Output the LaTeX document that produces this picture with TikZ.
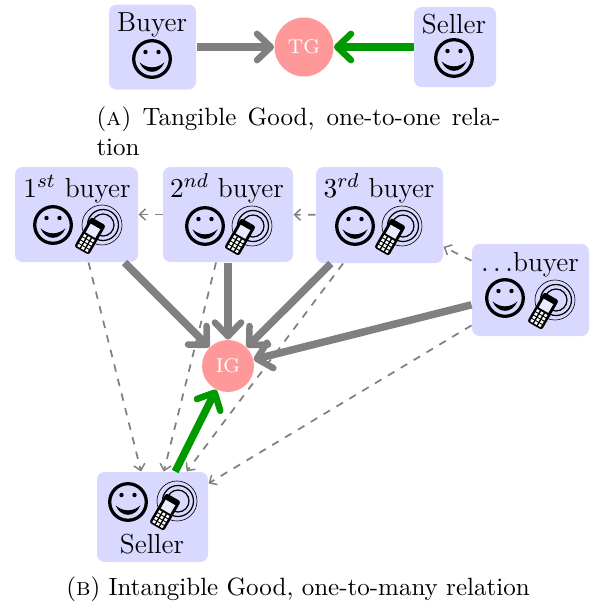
\documentclass[tikz,border=0pt]{standalone}
\usepackage{amsmath}
\usetikzlibrary{arrows.meta}

\tikzset{
  agentbox/.style 2 args={fill=blue!15, rounded corners=3pt, inner sep=0pt, minimum width=#1*0.4pt, minimum height=#2*0.4pt},
  agenttext/.style={anchor=base, inner sep=0pt, font=\fontsize{11}{13}\selectfont},
  goodnode/.style={circle, fill=red!40, text=white, inner sep=0pt, font=\footnotesize},
  captiontext/.style={anchor=base, inner sep=0pt, font=\normalsize},
  realflow/.style={-{Straight Barb[length=5.5pt, width=10.5pt, line width=2.6pt, round]}, draw=gray, line width=3pt},
  moneyflow/.style={-{Straight Barb[length=5.5pt, width=10.5pt, line width=2.6pt, round]}, draw=green!60!black, line width=3pt},
  infoflow/.style={-{Straight Barb[length=2.4pt, width=4.5pt, line width=0.6pt]}, draw=gray, line width=0.7pt, dashed},
  smileyface/.pic={
    \draw[line width=1.3pt] (0,0) circle (18.3);
    \fill (-6.5,-7) circle (2.2);
    \fill (6.5,-7) circle (2.2);
    \fill (-12.5,3.3) .. controls (-5,10) and (5,10) .. (12.5,3.3) .. controls (7,16) and (-7,16) .. cycle;
  },
  mobilephone/.pic={
    \draw[line width=0.25pt] (0,0) circle (20);
    \draw[line width=0.5pt] (1,0) circle (15.5);
    \draw[line width=0.5pt] (1,0) circle (11);
    \begin{scope}[shift={(-12,11)}, rotate=-30]
      \fill[rounded corners=1pt] (-8.5,-17) rectangle (8.5,17);
      \fill[blue!8] (-5.5,-11) rectangle (5.5,-1);
      \foreach \col in {-4.5,0,4.5} \foreach \row in {2.5,6.3,10.1,13.9} \fill[white] (\col-1.4,\row-1.3) rectangle (\col+1.4,\row+1.3);
    \end{scope}
  }
}

\begin{document}
\begin{tikzpicture}[x=0.4pt, y=-0.4pt, line join=round]
\useasboundingbox (0,0) rectangle (591,608);

% tangible good
\node[agentbox={87}{85}] (buyer) at (152.5,47) {};
\node[agentbox={82}{80}] (seller) at (455,47) {};
\node[goodnode, minimum size=59*0.4pt] (tg) at (304,47) {TG};
\node[agenttext] (buyertext) at (152,31) {Buyer};
\node[agenttext] (sellertext) at (454,33) {Seller};
\pic at (152,59) {smileyface};
\pic at (454,58) {smileyface};
\draw[realflow] (buyer) -- (tg);
\draw[moneyflow] (seller) -- (tg);
\node[captiontext, anchor=north west, text width=161.6pt, align=justify] (captiona) at (96,106) {(\textsc{a}) Tangible Good, one-to-one rela\-tion};

% intangible good
\node[agentbox={123}{95}] (first) at (76.5,214.5) {};
\node[agentbox={130}{95}] (second) at (228,214.5) {};
\node[agentbox={127}{96}] (third) at (379.5,215) {};
\node[agentbox={117}{92}] (other) at (530.5,290) {};
\node[agentbox={111}{90}] (sellerb) at (152.5,517) {};
\node[goodnode, minimum size=52*0.4pt] (ig) at (228,366) {IG};

\node[agenttext] (firsttext) at (77,197) {$1^{st}$ buyer};
\node[agenttext] (secondtext) at (227,197) {$2^{nd}$ buyer};
\node[agenttext] (thirdtext) at (379,197) {$3^{rd}$ buyer};
\node[agenttext] (othertext) at (530,271) {$\ldots$buyer};
\node[agenttext] (sellerbtext) at (152,553) {Seller};

\pic at (53,225) {smileyface};
\pic at (102,225) {mobilephone};
\pic at (205,226) {smileyface};
\pic at (252,226) {mobilephone};
\pic at (355,226) {smileyface};
\pic at (402,226) {mobilephone};
\pic at (505,298) {smileyface};
\pic at (555,300) {mobilephone};
\pic at (128,502) {smileyface};
\pic at (177,501) {mobilephone};

% who tells whom
\draw[infoflow] (second) -- (first);
\draw[infoflow] (third) -- (second);
\draw[infoflow] (other) -- (third);
\draw[infoflow] (first) -- (sellerb);
\draw[infoflow] (second) -- (sellerb);
\draw[infoflow] (third) -- (sellerb);
\draw[infoflow] (other) -- (sellerb);

% transfers to the good
\draw[realflow] (first) -- (ig);
\draw[realflow] (second) -- (ig);
\draw[realflow] (third) -- (ig);
\draw[realflow] (other) -- (ig);
\draw[moneyflow] (sellerb) -- (ig);

\node[captiontext] (captionb) at (298,595) {(\textsc{b}) Intangible Good, one-to-many relation};

\end{tikzpicture}
\end{document}
